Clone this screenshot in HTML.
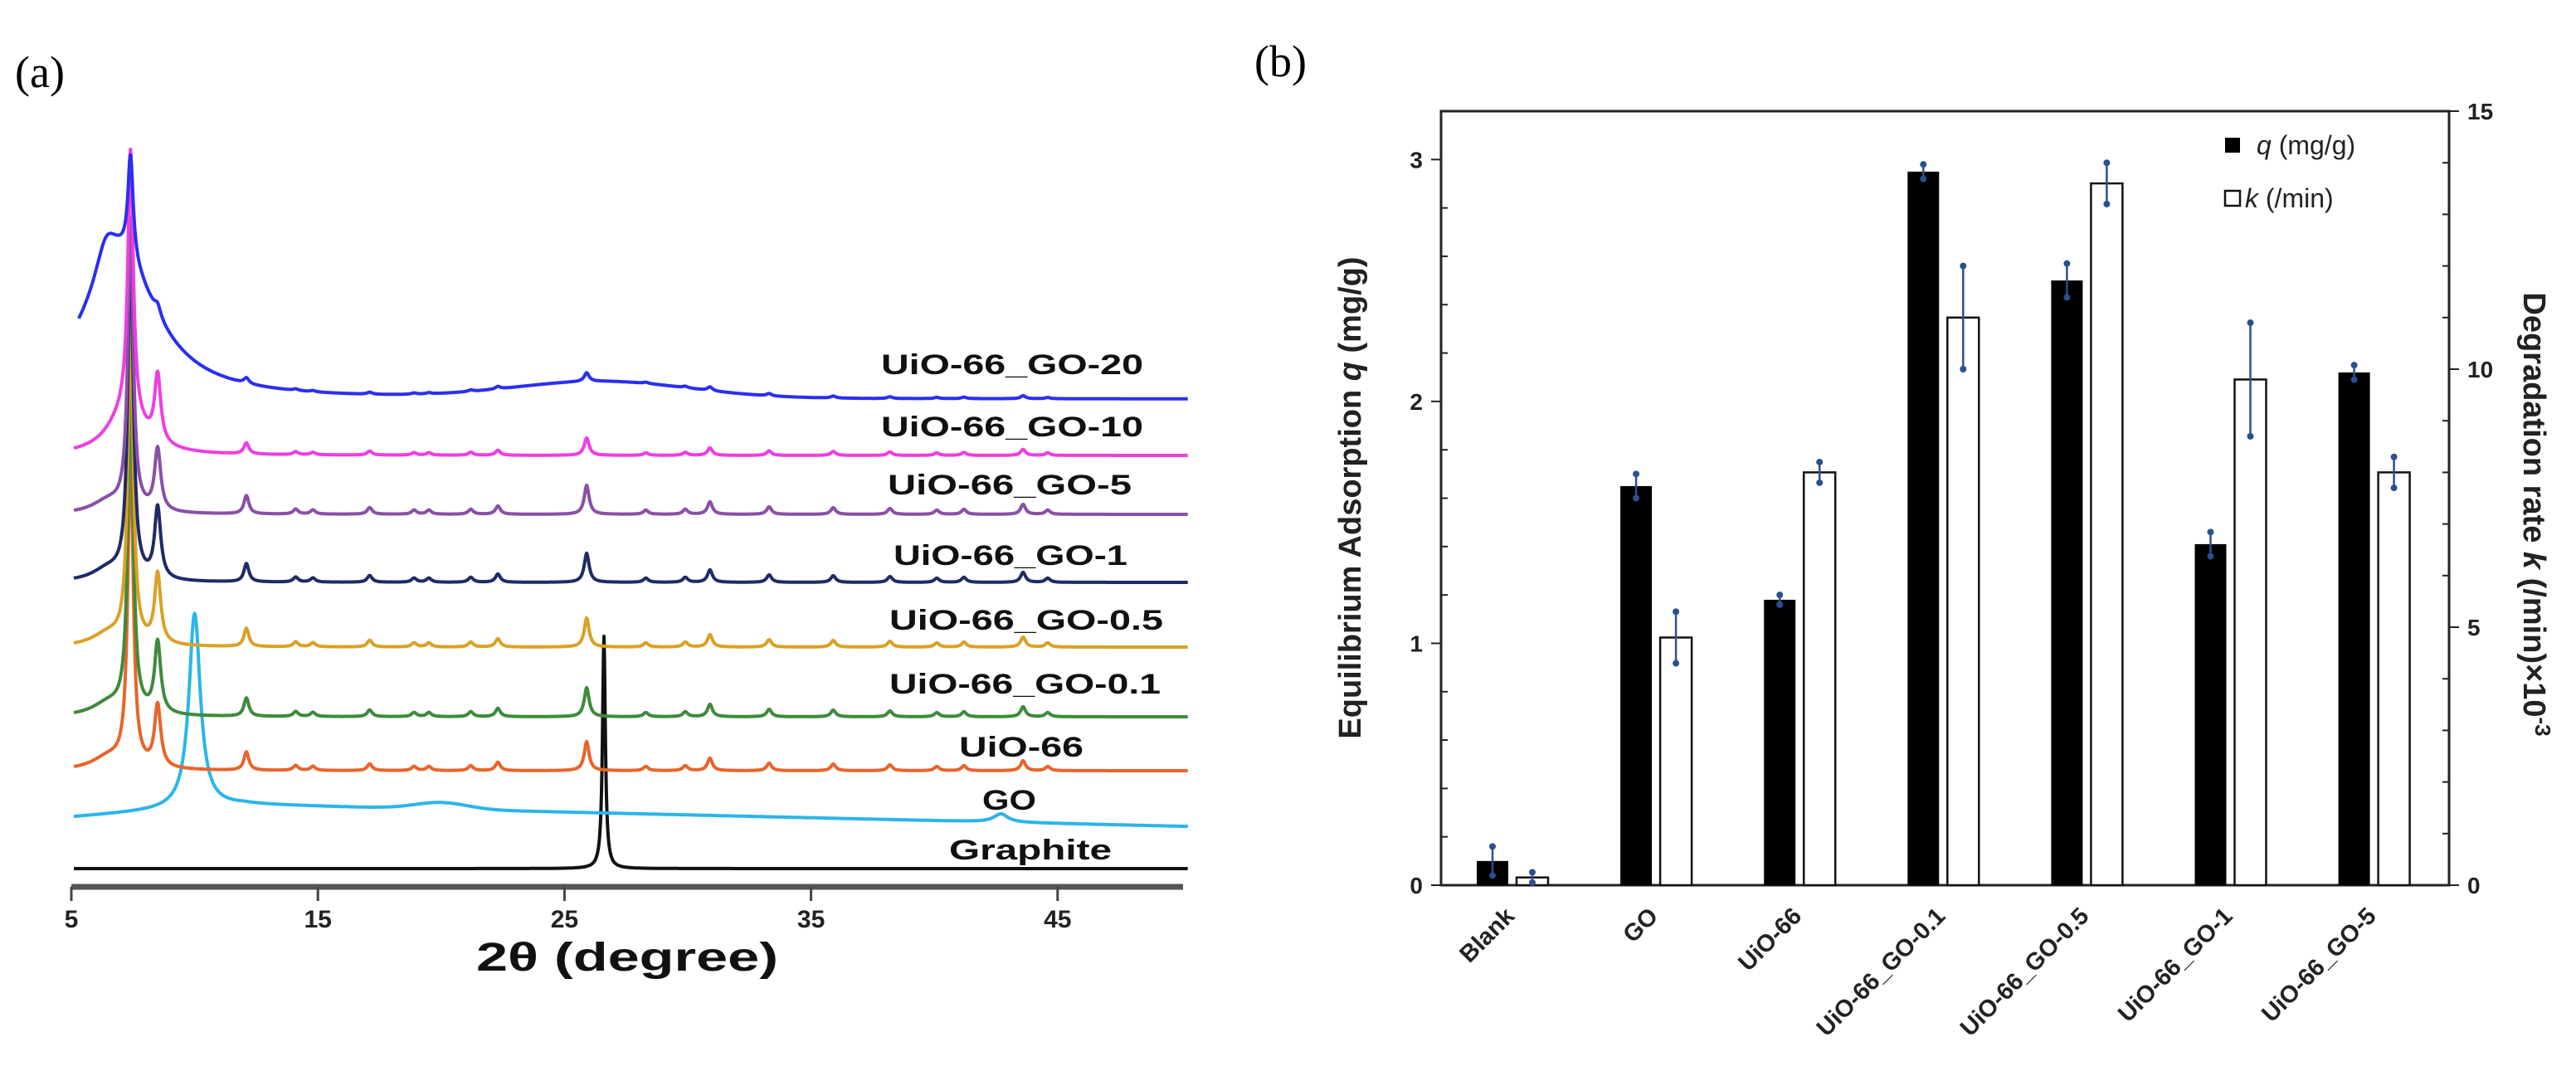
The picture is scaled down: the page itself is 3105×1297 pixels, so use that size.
<!DOCTYPE html>
<html><head><meta charset="utf-8"><style>
html,body{margin:0;padding:0;background:#fff;}
svg{display:block;font-family:"Liberation Sans",Arial,sans-serif;}
</style></head><body>
<svg id="fig" width="3105" height="1297" viewBox="0 0 3105 1297">
<rect width="3105" height="1297" fill="#fff"/>
<text x="18" y="105" font-family="Liberation Serif,serif" font-size="54">(a)</text>
<text x="1512" y="92" font-family="Liberation Serif,serif" font-size="54">(b)</text>
<g id="pa"></g>
<g id="pb"></g>
</svg>
<script>
// ---------- Panel (a) XRD data ----------
const traceNames = ["Graphite","GO","UiO-66","UiO-66_GO-0.1","UiO-66_GO-0.5","UiO-66_GO-1","UiO-66_GO-5","UiO-66_GO-10","UiO-66_GO-20"];
const traceColors = ["#111111","#2bb5ea","#e8642a","#3f8a3c","#d9a126","#1f2a66","#8a4fa8","#ee3ee0","#2a2ff0"];
const traceBaselines = [1047,996,929,864,780,702,620,549,481];
const mainPeak74 = [0,0,380,390,390,400,350,320,124];
const peak85 = [0,0,75,86,84,86,75,81,12];
const minorScale = [0,0,1,1,1,1,1,0.6,0.3];
const minorPos = [12.1,14.1,14.8,17.1,18.9,19.5,21.2,22.3,25.9,28.3,29.9,30.9,33.3,35.9,38.2,40.1,41.2,43.6,44.6];
const minorH = [22,6,5,8,5,5,6,10,35,5,6,15,9,8,7,5,6,12,5];
const labelYs = [1024,964,900,824,747,669,584,514,439];
const labelX0 = [1144,1184,1156,1072,1072,1077,1070,1062,1062];
const labelX1 = [1340,1249,1306,1399,1402,1359,1364,1378,1378];
const xTicks = [5,15,25,35,45];
// ---------- Panel (b) bar data ----------
const categories = ["Blank","GO","UiO-66","UiO-66_GO-0.1","UiO-66_GO-0.5","UiO-66_GO-1","UiO-66_GO-5"];
const qValues = [0.1,1.65,1.18,2.95,2.5,1.41,2.12];
const qErrors = [0.06,0.05,0.02,0.03,0.07,0.05,0.03];
const kValues = [0.15,4.8,8.0,11.0,13.6,9.8,8.0];
const kErrors = [0.1,0.5,0.2,1.0,0.4,1.1,0.3];
const leftTicks = [0,1,2,3];
const rightTicks = [0,5,10,15];

const NS="http://www.w3.org/2000/svg";
function mk(parent,tag,attrs){const e=document.createElementNS(NS,tag);for(const k in attrs)e.setAttribute(k,attrs[k]);parent.appendChild(e);return e;}

// Panel a
const pa=document.getElementById('pa');
const xa = d => 86 + (d-5)*29.72;
function lor(x,p,h,w){const u=(x-p)/w;return h/(1+u*u);}
function gau(x,p,h,w){const u=(x-p)/w;return h*Math.exp(-u*u);}
function traceY(i,x){
  let y=traceBaselines[i];
  if(i===0){ y-=lor(x,26.6,280,0.07); return y; }
  if(i===1){
    if(x>12) y = 970 + (x-12)*(26/38);
    else y = 985 - (x-5)*(15/7);
    y-=lor(x,10.0,235,0.28); y-=gau(x,20,8,1.5); y-=lor(x,42.7,10,0.35);
    return y;
  }
  y-=lor(x,7.4,mainPeak74[i],0.13);
  y-=lor(x,8.5,peak85[i],0.15);
  if(i===8){ y-=lor(x,7.0,170,1.8); y-=lor(x,6.4,40,0.5); y-=gau(x,26.5,20,5); }
  else if(i===7){ y-=lor(x,7.2,50,0.9); }
  else { y-=lor(x,6.5,15,0.8); }
  for(let j=0;j<minorPos.length;j++) y-=lor(x,minorPos[j],minorH[j]*minorScale[i],0.12);
  return y;
}
for(let i=0;i<traceNames.length;i++){
  let d=''; const x0 = i===8?5.3:5.1;
  for(let x=x0;x<=50.3;x+=0.02){ d+=(d?'L':'M')+xa(x).toFixed(1)+','+traceY(i,x).toFixed(1); }
  const p=mk(pa,'path',{d:d,fill:'none',stroke:traceColors[i],'stroke-width':4,'stroke-linejoin':'round'});
  
  
}
for(let i=0;i<traceNames.length;i++){
  const t=mk(pa,'text',{x:labelX0[i],y:labelYs[i]+12,'font-size':34,'font-weight':'bold',fill:'#111',textLength:labelX1[i]-labelX0[i],lengthAdjust:'spacingAndGlyphs'});
  t.textContent=traceNames[i];
  
  
}
const ax=mk(pa,'line',{x1:86,y1:1069,x2:1426,y2:1069,stroke:'#555','stroke-width':7});


for(const v of xTicks){
  const tk=mk(pa,'line',{x1:xa(v),y1:1069,x2:xa(v),y2:1086,stroke:'#444','stroke-width':3});
  
  
  const tl=mk(pa,'text',{x:xa(v),y:1118,'font-size':30,'font-weight':'bold','text-anchor':'middle',fill:'#222'});
  tl.textContent=v;
  
  
}
const xt=mk(pa,'text',{x:756,y:1170,'font-size':48,'font-weight':'bold','text-anchor':'middle',fill:'#111',textLength:364,lengthAdjust:'spacingAndGlyphs'});
xt.textContent='2θ (degree)';



// Panel b
const pb=document.getElementById('pb');
const L=1737,R=2952,T=134,B=1067;
const yq = v => B - v*(B-T)/3.2;
const yk = v => B - v*(B-T)/15;
const gx = i => 1823 + i*173.1;
const fr=mk(pb,'rect',{x:L,y:T,width:R-L,height:B-T,fill:'none',stroke:'#222','stroke-width':3});


for(let n=0;n<=16;n++){
  const v=n*0.2;
  const major=n%5===0;
  const t=mk(pb,'line',{x1:major?L-12:L,y1:yq(v),x2:major?L:L+8,y2:yq(v),stroke:'#222','stroke-width':2});
  
  
}
for(const v of leftTicks){
  const t=mk(pb,'text',{x:L-22,y:yq(v)+10,'font-size':28,'font-weight':'bold','text-anchor':'end',fill:'#222'});
  t.textContent=v;
  
  
}
for(let v=0;v<=15;v++){
  const major=v%5===0;
  const t=mk(pb,'line',{x1:major?R:R-8,y1:yk(v),x2:major?R+12:R,y2:yk(v),stroke:'#222','stroke-width':2});
  
  
}
for(const v of rightTicks){
  const t=mk(pb,'text',{x:R+22,y:yk(v)+10,'font-size':28,'font-weight':'bold',fill:'#222'});
  t.textContent=v;
  
  
}
function errbar(x,y1,y2){
  const l=mk(pb,'line',{x1:x,y1:y1,x2:x,y2:y2,stroke:'#2b4f8f','stroke-width':2.5});
  
  
  for(const y of [y1,y2]){const c=mk(pb,'circle',{cx:x,cy:y,r:4,fill:'#2b4f8f'});
    
    }
}
for(let i=0;i<categories.length;i++){
  const bq=mk(pb,'rect',{x:gx(i)-24-19,y:yq(qValues[i]),width:38,height:B-yq(qValues[i]),fill:'#000'});
  
  
  const bk=mk(pb,'rect',{x:gx(i)+24-19,y:yk(kValues[i]),width:38,height:B-yk(kValues[i]),fill:'#fff',stroke:'#111','stroke-width':2.5});
  
  
  errbar(gx(i)-24,yq(qValues[i]+qErrors[i]),yq(qValues[i]-qErrors[i]));
  errbar(gx(i)+24,yk(kValues[i]+kErrors[i]),yk(kValues[i]-kErrors[i]));
  const cx=gx(i)+4, cy=1106;
  const lb=mk(pb,'text',{x:cx,y:cy,'font-size':29,'font-weight':'bold','text-anchor':'end',fill:'#222',transform:'rotate(-45 '+cx+' '+cy+')'});
  lb.textContent=categories[i];
  
  
}
// legend
const lg=mk(pb,'g',{});


const s1=mk(lg,'rect',{x:2682,y:166,width:18,height:18,fill:'#000'});


const t1=mk(lg,'text',{x:2720,y:186,'font-size':32,fill:'#222'});
const t1a=mk(t1,'tspan',{'font-style':'italic'}); t1a.textContent='q';
const t1b=mk(t1,'tspan',{}); t1b.textContent=' (mg/g)';


const s2=mk(lg,'rect',{x:2682,y:230,width:18,height:18,fill:'#fff',stroke:'#111','stroke-width':2.5});


const t2=mk(lg,'text',{x:2706,y:250,'font-size':32,fill:'#222'});
const t2a=mk(t2,'tspan',{'font-style':'italic'}); t2a.textContent='k';
const t2b=mk(t2,'tspan',{}); t2b.textContent=' (/min)';


// axis titles
const yl=mk(pb,'text',{x:1640,y:600,'font-size':38,'font-weight':'bold','text-anchor':'middle',fill:'#222',transform:'rotate(-90 1640 600)'});
const yl1=mk(yl,'tspan',{}); yl1.textContent='Equilibrium Adsorption ';
const yl2=mk(yl,'tspan',{'font-style':'italic'}); yl2.textContent='q';
const yl3=mk(yl,'tspan',{}); yl3.textContent=' (mg/g)';


const yr=mk(pb,'text',{x:3042,y:620,'font-size':38,'font-weight':'bold','text-anchor':'middle',fill:'#222',transform:'rotate(90 3042 620)'});
const yr1=mk(yr,'tspan',{}); yr1.textContent='Degradation rate ';
const yr2=mk(yr,'tspan',{'font-style':'italic'}); yr2.textContent='k';
const yr3=mk(yr,'tspan',{}); yr3.textContent=' (/min)×10';
const yr4=mk(yr,'tspan',{'font-size':26,dy:-14}); yr4.textContent='-3';


</script>
</body></html>
